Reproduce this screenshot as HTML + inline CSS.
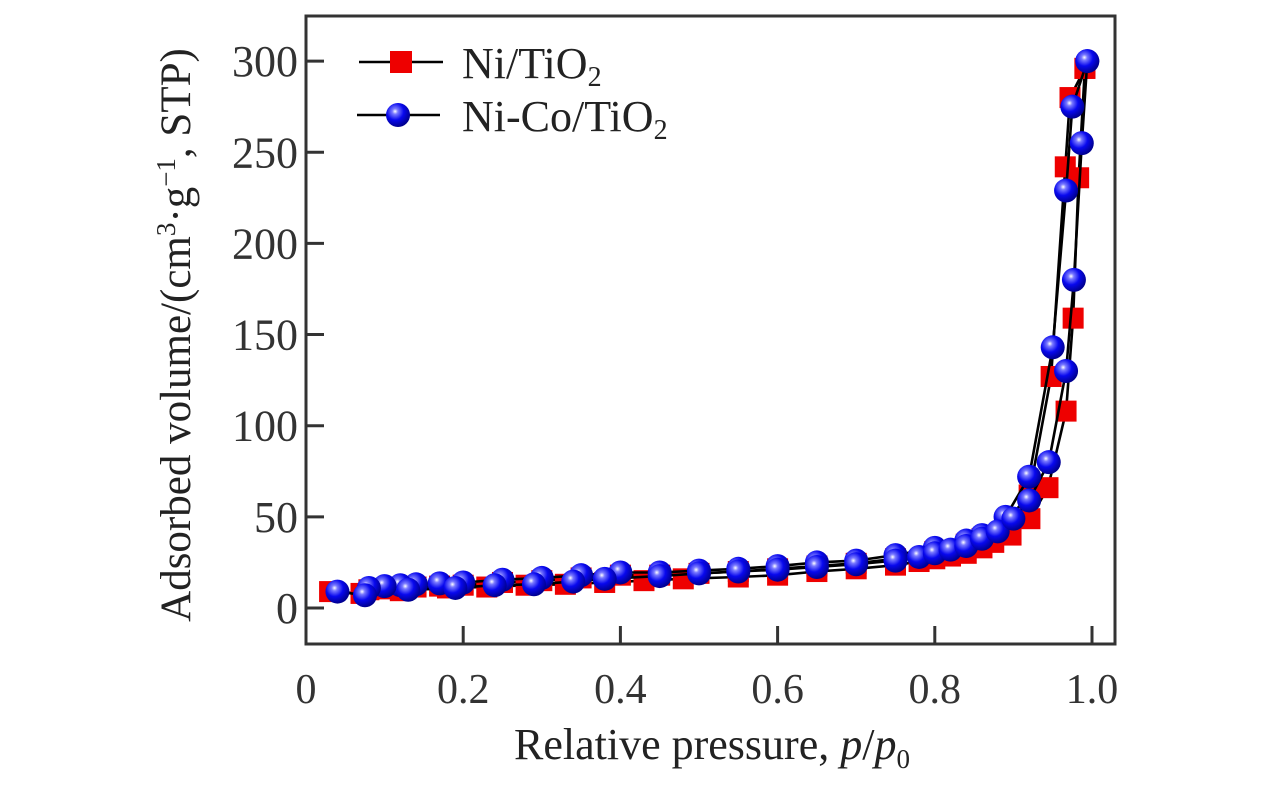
<!DOCTYPE html>
<html><head><meta charset="utf-8"><style>
html,body{margin:0;padding:0;background:#fff;}
svg{display:block;font-family:"Liberation Serif",serif;}
</style></head><body>
<svg id="chart" width="1276" height="787" viewBox="0 0 1276 787">
<defs>
<radialGradient id="ball" cx="0.38" cy="0.35" r="0.65">
<stop offset="0" stop-color="#ffffff"/><stop offset="0.18" stop-color="#7a7aff"/><stop offset="0.55" stop-color="#0808ee"/><stop offset="1" stop-color="#000090"/>
</radialGradient>
</defs>
<g id="plot"></g>
<g id="axes"></g>
</svg>
<script>
const xTicks=[0,0.2,0.4,0.6,0.8,1.0];
const xTickLabels=["0","0.2","0.4","0.6","0.8","1.0"];
const yTicks=[0,50,100,150,200,250,300];
const yTickLabels=["0","50","100","150","200","250","300"];
const niAdsP=[0.03,0.07,0.12,0.18,0.23,0.28,0.33,0.38,0.43,0.48,0.55,0.6,0.65,0.7,0.75,0.78,0.8,0.82,0.84,0.86,0.875,0.897,0.921,0.944,0.967,0.976,0.983,0.991];
const niAdsV=[9,8,9.5,11,11.5,12.5,13,14,15,16,17,18,20,21.5,23.5,25.5,27,28.5,30,33,36,40,49,66,108,159,236,296];
const niDesP=[0.991,0.972,0.966,0.948,0.92,0.89,0.86,0.84,0.8,0.75,0.7,0.65,0.6,0.55,0.5,0.45,0.4,0.35,0.3,0.25,0.2,0.17,0.14,0.12,0.1,0.08];
const niDesV=[296,280,242,127,62,47,38,35,31,27,24.5,23,21.5,20,19,18,18,16.5,15,14,12.5,12,11.5,11,10.5,10];
const coAdsP=[0.04,0.075,0.13,0.19,0.24,0.29,0.34,0.38,0.45,0.5,0.55,0.6,0.65,0.7,0.75,0.78,0.8,0.82,0.84,0.86,0.88,0.9,0.92,0.945,0.967,0.977,0.987,0.994];
const coAdsV=[9,7,10,11,12.5,13,14.5,16,17.5,19,20,21,22.5,24,26,28,30,32,34,38,42,49,59,80,130,180,255,300];
const coDesP=[0.994,0.975,0.967,0.95,0.92,0.89,0.86,0.84,0.8,0.75,0.7,0.65,0.6,0.55,0.5,0.45,0.4,0.35,0.3,0.25,0.2,0.17,0.14,0.12,0.1,0.08];
const coDesV=[300,275,229,143,72,50,40,37,33,29,26,25,23,21.5,20.5,19.5,19.5,18,16.5,15.5,14,13.5,13,12.5,12,11];

const NS="http://www.w3.org/2000/svg";
const L=306,R=1115,T=16,B=644;
function sx(p){return 306+p*786;}
function sy(v){return 608-v*1.823;}
function mk(tag,attrs,parent){const e=document.createElementNS(NS,tag);for(const k in attrs)e.setAttribute(k,attrs[k]);parent.appendChild(e);return e;}
const plot=document.getElementById('plot'),axes=document.getElementById('axes');

function line(P,V,name){
  const d=P.map((p,i)=>(i?'L':'M')+sx(p).toFixed(1)+' '+sy(V[i]).toFixed(1)).join(' ');
  const e=mk('path',{d:d,fill:'none',stroke:'#000','stroke-width':2.6,'stroke-linejoin':'round'},plot);
  
  
}
function squares(P,V,name){P.forEach((p,i)=>{const e=mk('rect',{x:sx(p)-10.5,y:sy(V[i])-10.5,width:21,height:21,fill:'#ee0000'},plot);
  
  });}
function balls(P,V,name){P.forEach((p,i)=>{const e=mk('circle',{cx:sx(p),cy:sy(V[i]),r:12,fill:'url(#ball)'},plot);
  
  });}

line(niAdsP,niAdsV,'ni-tio2-adsorption-line');
line(niDesP,niDesV,'ni-tio2-desorption-line');
squares(niDesP,niDesV,'ni-tio2-desorption-point');
squares(niAdsP,niAdsV,'ni-tio2-adsorption-point');
line(coAdsP,coAdsV,'ni-co-tio2-adsorption-line');
line(coDesP,coDesV,'ni-co-tio2-desorption-line');
balls(coDesP,coDesV,'ni-co-tio2-desorption-point');
balls(coAdsP,coAdsV,'ni-co-tio2-adsorption-point');

let f=mk('rect',{x:L,y:T,width:R-L,height:B-T,fill:'none',stroke:'#333','stroke-width':3},axes);


xTicks.forEach((t,i)=>{
  const x=sx(t);
  if(i>0){const tk=mk('line',{x1:x,x2:x,y1:B,y2:B-18,stroke:'#333','stroke-width':3},axes);
  
  }
  const tx=mk('text',{x:x,y:703,'text-anchor':'middle','font-size':42,fill:'#333'},axes);
  tx.textContent=xTickLabels[i];
  
  
});
yTicks.forEach((t,i)=>{
  const y=sy(t);
  const tk=mk('line',{x1:L,x2:L+18,y1:y,y2:y,stroke:'#333','stroke-width':3},axes);
  
  
  const tx=mk('text',{x:298,y:y+15,'text-anchor':'end','font-size':44,fill:'#333'},axes);
  tx.textContent=yTickLabels[i];
  
  
});
</script>
<script>
(function(){
const svg=document.getElementById('chart');
const g=document.createElementNS("http://www.w3.org/2000/svg",'g');
g.innerHTML=
'<text x="712" y="759" text-anchor="middle" font-size="44" fill="#222">Relative pressure, <tspan font-style="italic">p</tspan>/<tspan font-style="italic">p</tspan><tspan font-size="27" dy="9">0</tspan></text>'+
'<text transform="translate(190,335) rotate(-90)" text-anchor="middle" font-size="43" fill="#222">Adsorbed volume/(cm<tspan font-size="27" dy="-15">3</tspan><tspan dy="15">·g</tspan><tspan font-size="27" dy="-15">−1</tspan><tspan dy="15">, STP)</tspan></text>'+
'<g>'+
'<line x1="359" y1="62" x2="443" y2="62" stroke="#000" stroke-width="2.6"/>'+
'<rect x="390" y="51" width="22" height="22" fill="#ee0000"/>'+
'<text x="462" y="78" font-size="44" fill="#222">Ni/TiO<tspan font-size="28" dy="8">2</tspan></text>'+
'<line x1="357" y1="115" x2="440" y2="115" stroke="#000" stroke-width="2.6"/>'+
'<circle cx="398" cy="115" r="12" fill="url(#ball)"/>'+
'<text x="462" y="131" font-size="44" fill="#222">Ni-Co/TiO<tspan font-size="28" dy="8">2</tspan></text>'+
'</g>';
svg.appendChild(g);
})();
</script>
</body></html>
